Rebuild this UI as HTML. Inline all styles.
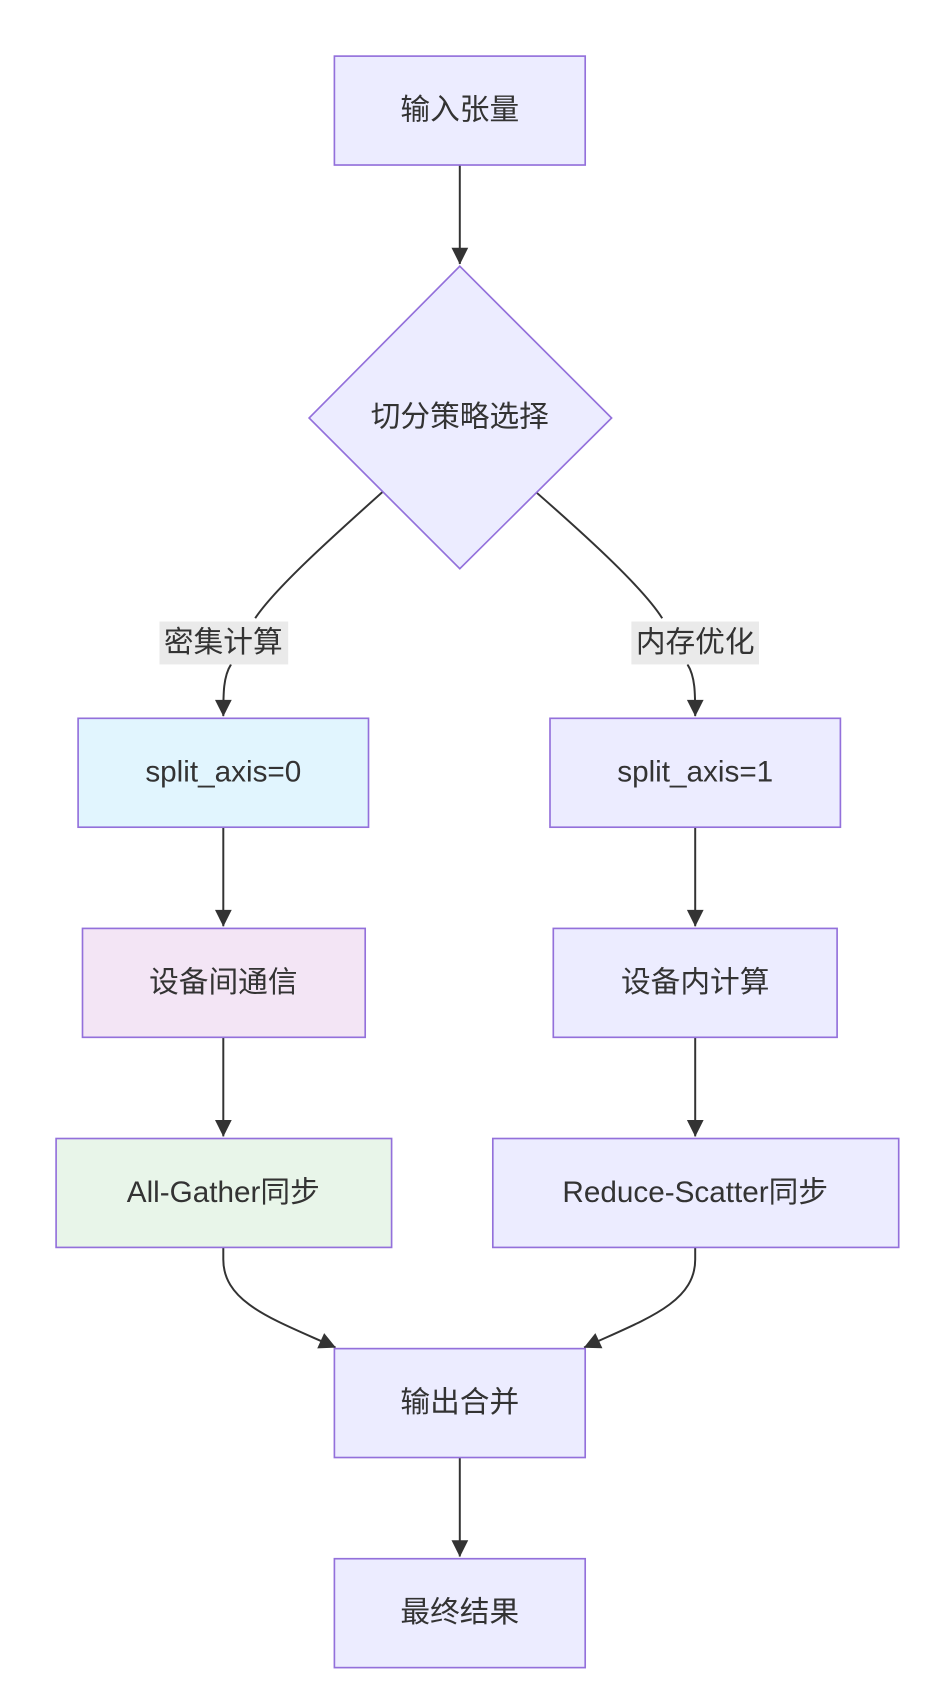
<!DOCTYPE html>
<html><head><meta charset="utf-8"><style>
html,body{margin:0;padding:0;background:#fff}
svg{display:block}
text{font-family:"Liberation Sans","Noto Sans CJK SC",sans-serif;font-size:27px;fill:#333;text-anchor:middle;dominant-baseline:central}
</style></head><body>
<svg width="946" height="1708" viewBox="0 0 860 1552.7" xmlns="http://www.w3.org/2000/svg">
<defs><marker id="a" viewBox="0 0 10 10" refX="9" refY="5" markerWidth="8" markerHeight="8" orient="auto" markerUnits="userSpaceOnUse" style="overflow:visible"><path d="M0,0 L10,5 L0,10 z" fill="#333" transform="scale(1.9) translate(-5,-2.4)"/></marker></defs>
<g fill="none" stroke="#333" stroke-width="1.8">
<path d="M418,150 L418,240" marker-end="url(#a)"/>
<path d="M348,447 C300,490 250,535 232,562"/>
<path d="M210,604 C203,615 203,630 203,651" marker-end="url(#a)"/>
<path d="M488,448 C536,490 585,535 602,562"/>
<path d="M625,604 C632,615 632,630 632,651" marker-end="url(#a)"/>
<path d="M203,752 L203,842" marker-end="url(#a)"/>
<path d="M632,752 L632,842" marker-end="url(#a)"/>
<path d="M203,943 L203,1033" marker-end="url(#a)"/>
<path d="M632,943 L632,1033" marker-end="url(#a)"/>
<path d="M203,1134 L203,1145 C203,1185 250,1200 305,1225" marker-end="url(#a)"/>
<path d="M632,1134 L632,1145 C632,1185 585,1200 531,1225" marker-end="url(#a)"/>
<path d="M418,1325 L418,1415" marker-end="url(#a)"/>
</g>
<g stroke="#9370DB" stroke-width="1.5">
<rect x="304" y="51" width="228" height="99" fill="#ECECFF"/>
<polygon points="418,242 556,380 418,517 281,380" fill="#ECECFF"/>
<rect x="71" y="653" width="264" height="99" fill="#E1F5FE"/>
<rect x="500" y="653" width="264" height="99" fill="#ECECFF"/>
<rect x="75" y="844" width="257" height="99" fill="#F3E5F5"/>
<rect x="503" y="844" width="258" height="99" fill="#ECECFF"/>
<rect x="51" y="1035" width="305" height="99" fill="#E8F5E9"/>
<rect x="448" y="1035" width="369" height="99" fill="#ECECFF"/>
<rect x="304" y="1226" width="228" height="99" fill="#ECECFF"/>
<rect x="304" y="1417" width="228" height="99" fill="#ECECFF"/>
</g>
<rect x="145" y="565" width="117" height="39" fill="#e8e8e8" opacity="0.9"/>
<rect x="574" y="565" width="116" height="39" fill="#e8e8e8" opacity="0.9"/>
<text x="418" y="100">输入张量</text>
<text x="418" y="379">切分策略选择</text>
<text x="203" y="584">密集计算</text>
<text x="632" y="584">内存优化</text>
<text x="203" y="702">split_axis=0</text>
<text x="632" y="702">split_axis=1</text>
<text x="203" y="893">设备间通信</text>
<text x="632" y="893">设备内计算</text>
<text x="203" y="1084">All-Gather同步</text>
<text x="632" y="1084">Reduce-Scatter同步</text>
<text x="418" y="1275">输出合并</text>
<text x="418" y="1466">最终结果</text>
</svg>
</body></html>
